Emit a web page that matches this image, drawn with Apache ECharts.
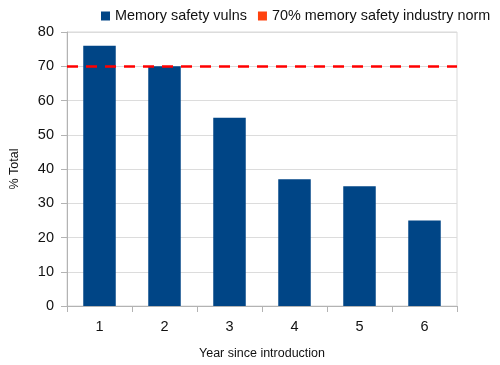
<!DOCTYPE html>
<html><head><meta charset="utf-8">
<script src="https://cdn.jsdelivr.net/npm/echarts@6/dist/echarts.min.js"></script>
<style>html,body{margin:0;padding:0;background:#fff}#c{width:500px;height:365px}</style>
</head><body><div id="c"></div>
<script>
const categories = ['1', '2', '3', '4', '5', '6'];
const memoryVulns = [76, 70, 55, 37, 35, 25];
const industryNorm = 70;
const yTicks = [0, 10, 20, 30, 40, 50, 60, 70, 80];

const chart = echarts.init(document.getElementById('c'), null, {renderer: 'canvas'});
const font = 'Liberation Sans';
chart.setOption({
  animation: false,
  textStyle: {fontFamily: font},
  legend: {
    top: 9, left: 101, padding: 0, width: 399,
    itemWidth: 9, itemHeight: 9, itemGap: 11,
    textStyle: {fontFamily: font, fontSize: 14.4, color: '#111'},
    data: [
      {name: 'Memory safety vulns', icon: 'rect', itemStyle: {color: '#004586'}},
      {name: '70% memory safety industry norm', icon: 'rect', itemStyle: {color: '#ff420e'}}
    ]
  },
  grid: {left: 64, right: 43, top: 32, bottom: 56, show: true, borderColor: '#d9d9d9', borderWidth: 1},
  xAxis: {
    type: 'category', data: categories,
    name: 'Year since introduction', nameLocation: 'middle', nameGap: 41,
    nameTextStyle: {fontFamily: font, fontSize: 12.5, color: '#111'},
    axisLine: {lineStyle: {color: '#b3b3b3'}},
    axisTick: {show: true, length: 6, lineStyle: {color: '#b3b3b3'}},
    axisLabel: {fontFamily: font, fontSize: 14.5, color: '#111', margin: 13}
  },
  yAxis: {
    type: 'value', min: yTicks[0], max: yTicks[yTicks.length - 1], interval: 10,
    name: '% Total', nameLocation: 'middle', nameGap: 46,
    nameTextStyle: {fontFamily: font, fontSize: 12.5, color: '#111'},
    axisLine: {show: true, lineStyle: {color: '#b3b3b3'}},
    axisTick: {show: true, length: 6, lineStyle: {color: '#b3b3b3'}},
    axisLabel: {fontFamily: font, fontSize: 14.5, color: '#111', margin: 13},
    splitLine: {lineStyle: {color: '#dcdcdc'}}
  },
  series: [
    {
      name: 'Memory safety vulns', type: 'bar', data: memoryVulns,
      barWidth: '50%', itemStyle: {color: '#004586'}, z: 2
    },
    {
      name: '70% memory safety industry norm', type: 'line', data: [],
      itemStyle: {color: '#ff420e'},
      markLine: {
        silent: true, symbol: 'none', label: {show: false},
        lineStyle: {color: '#ff0000', type: [11, 8], width: 2.5},
        data: [{yAxis: industryNorm}]
      },
      z: 3
    }
  ]
});
</script></body></html>
